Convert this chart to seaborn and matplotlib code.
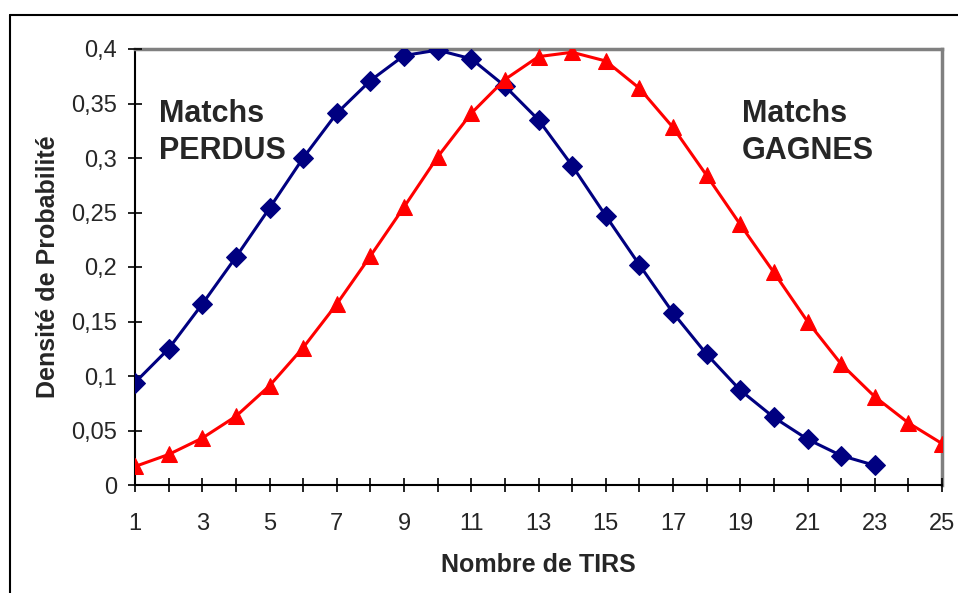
import numpy as np
import pandas as pd
import matplotlib.pyplot as plt
import seaborn as sns
from matplotlib.lines import Line2D

# values
tirs_perdus = list(range(1, 24))
dens_perdus = [0.094, 0.125, 0.166, 0.209, 0.254, 0.300, 0.341, 0.371, 0.394, 0.399,
               0.391, 0.366, 0.335, 0.293, 0.247, 0.202, 0.158, 0.120, 0.087, 0.062,
               0.042, 0.027, 0.018]
tirs_gagnes = list(range(1, 26))
dens_gagnes = [0.017, 0.028, 0.043, 0.063, 0.091, 0.126, 0.166, 0.210, 0.255, 0.301,
               0.341, 0.372, 0.393, 0.397, 0.389, 0.364, 0.328, 0.284, 0.239, 0.195,
               0.150, 0.111, 0.081, 0.057, 0.038]
x_ticklabels = [str(v) if v % 2 == 1 else '' for v in range(1, 26)]
y_ticks = [0, 0.05, 0.1, 0.15, 0.2, 0.25, 0.3, 0.35, 0.4]

df_p = pd.DataFrame({'tirs': tirs_perdus, 'dens': dens_perdus})
df_g = pd.DataFrame({'tirs': tirs_gagnes, 'dens': dens_gagnes})

sns.set_style('white')
plt.rcParams['font.family'] = ['Liberation Sans', 'DejaVu Sans']

fig = plt.figure(figsize=(9.58, 5.93), dpi=100)
ax = fig.add_axes([135/958, (593-485)/593, (942-135)/958, (485-49)/593])

sns.lineplot(data=df_p, x='tirs', y='dens', ax=ax, color='#000080', lw=2.2,
             marker='D', markersize=10, markeredgecolor='#000080')
sns.lineplot(data=df_g, x='tirs', y='dens', ax=ax, color='#FF0000', lw=2.2,
             marker='^', markersize=12, markeredgecolor='#FF0000')

ax.set_xlim(1, 25)
ax.set_ylim(0, 0.4)
ax.set_xticks(range(1, 26))
ax.set_xticklabels(x_ticklabels, fontsize=17)
ax.set_yticks(y_ticks)
ax.set_yticklabels(['0' if v == 0 else f'{v:g}'.replace('.', ',') for v in y_ticks], fontsize=17)
ax.tick_params(direction='inout', length=10, width=1.2, color='black', pad=8,
               bottom=True, left=True)
ax.tick_params(axis='x', pad=15)

for side in ['left', 'bottom']:
    ax.spines[side].set_color('black')
    ax.spines[side].set_linewidth(1.5)
for side in ['top', 'right']:
    ax.spines[side].set_color('#808080')
    ax.spines[side].set_linewidth(2.5)
for s in ax.spines.values():
    s.set_visible(True)
    s.set_zorder(0)

ax.set_xlabel('Nombre de TIRS', fontsize=18, fontweight='bold', labelpad=13)
ax.set_ylabel('Densité de Probabilité', fontsize=18, fontweight='bold', labelpad=8)

ax.text(0.03, 0.885, 'Matchs\nPERDUS', transform=ax.transAxes, fontsize=22,
        fontweight='bold', va='top', ha='left', linespacing=1.3)
ax.text(0.752, 0.885, 'Matchs\nGAGNES', transform=ax.transAxes, fontsize=22,
        fontweight='bold', va='top', ha='left', linespacing=1.3)

# outer chart frame (top and left edges visible)
fig.add_artist(Line2D([10/958, 1], [1 - 15/593, 1 - 15/593], color='black', lw=1.5))
fig.add_artist(Line2D([10/958, 10/958], [0, 1 - 15/593], color='black', lw=1.5))

fig.savefig('out.png', dpi=100)
